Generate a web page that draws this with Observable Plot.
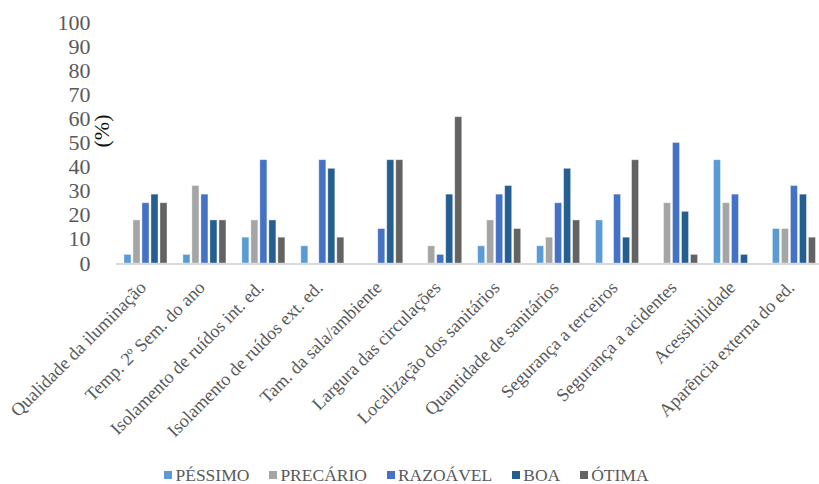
<!DOCTYPE html>
<html>
<head>
<meta charset="utf-8">
<script src="https://cdn.jsdelivr.net/npm/d3@7"></script>
<script src="https://cdn.jsdelivr.net/npm/@observablehq/plot@0.6"></script>
<style>
  html, body { margin: 0; padding: 0; background: #fff; }
  #chart { width: 819px; overflow: hidden; height: 450px; }
  #legend { display: flex; justify-content: center; align-items: center; height: 18px; line-height: 18px; margin-top: 16px; padding-right: 6px;
    font-family: "Liberation Serif", serif; font-size: 17.5px; color: #595959; }
  .item { display: flex; align-items: center; margin: 0 10px; }
  .sw { width: 8px; height: 8px; margin-right: 3px; }
</style>
</head>
<body>
<div id="chart"></div>
<div id="legend"></div>
<script>
const categories = [
  "Qualidade da iluminação", "Temp. 2º Sem. do ano", "Isolamento de ruídos int. ed.",
  "Isolamento de ruídos ext. ed.", "Tam. da sala/ambiente", "Largura das circulações",
  "Localização dos sanitários", "Quantidade de sanitários", "Segurança a terceiros",
  "Segurança a acidentes", "Acessibilidade", "Aparência externa do ed."
];
const series = ["PÉSSIMO", "PRECÁRIO", "RAZOÁVEL", "BOA", "ÓTIMA"];
const colors = ["#5B9BD5", "#A5A5A5", "#4472C4", "#255E91", "#636363"];
const pessimo  = [3.57, 3.57, 10.71, 7.14, 0, 0, 7.14, 7.14, 17.86, 0, 42.86, 14.29];
const precario = [17.86, 32.14, 17.86, 0, 0, 7.14, 17.86, 10.71, 0, 25, 25, 14.29];
const razoavel = [25, 28.57, 42.86, 42.86, 14.29, 3.57, 28.57, 25, 28.57, 50, 28.57, 32.14];
const boa      = [28.57, 17.86, 17.86, 39.29, 42.86, 28.57, 32.14, 39.29, 10.71, 21.43, 3.57, 28.57];
const otima    = [25, 17.86, 10.71, 10.71, 42.86, 60.71, 14.29, 17.86, 42.86, 3.57, 0, 10.71];
const yTicks = [0, 10, 20, 30, 40, 50, 60, 70, 80, 90, 100];
const yTitle = "(%)";

const valuesBySeries = [pessimo, precario, razoavel, boa, otima];
const data = [];
categories.forEach((c, i) => {
  series.forEach((s, j) => {
    data.push({category: c, series: s, value: valuesBySeries[j][i]});
  });
});

const serif = "'Liberation Serif', serif";

const plot = Plot.plot({
  width: 819,
  height: 450,
  marginLeft: 116,
  marginRight: 2,
  marginTop: 22,
  marginBottom: 187,
  style: {background: "#fff", fontFamily: serif, overflow: "visible"},
  fx: {domain: categories, range: [116, 823.4], paddingInner: 0.27, paddingOuter: 0.135, round: false, label: null, axis: null},
  x: {domain: series, paddingInner: 0.22, paddingOuter: 0, round: false, axis: null, label: null},
  y: {domain: [0, 100], axis: null, label: null},
  color: {domain: series, range: colors},
  marks: [
    Plot.barY(data.filter(d => d.value > 0), {
      fx: "category", x: "series", y: "value", fill: "series",
      stroke: "#ffffff", strokeOpacity: 0.45, strokeWidth: 0.8
    }),
    Plot.axisY({ticks: yTicks, tickSize: 0, tickPadding: 34, fontSize: 22, fill: "#595959", label: null, fontFamily: serif}),
    Plot.axisFx({anchor: "bottom", tickRotate: -45, tickSize: 0, tickPadding: 21, dx: -3, fontSize: 18.3, fill: "#595959", label: null, fontFamily: serif})
  ]
});

document.getElementById("chart").appendChild(plot);

// baseline across full plot width, positioned via the plot's y scale
const svg = d3.select(plot);
const y0 = plot.scale("y").apply(0);
svg.append("line")
  .attr("x1", 116).attr("x2", 819)
  .attr("y1", y0 + 1).attr("y2", y0 + 1)
  .attr("stroke", "#D9D9D9").attr("stroke-width", 2);

svg.append("text")
  .attr("transform", "translate(101,131) rotate(-90)")
  .attr("text-anchor", "middle")
  .attr("dy", "0.35em")
  .attr("font-family", serif)
  .attr("font-size", 22)
  .attr("fill", "#111")
  .text(yTitle);

const legend = d3.select("#legend");
series.forEach((s, j) => {
  const it = legend.append("div").attr("class", "item");
  it.append("div").attr("class", "sw").style("background", colors[j]);
  it.append("span").text(s);
});
</script>
</body>
</html>
